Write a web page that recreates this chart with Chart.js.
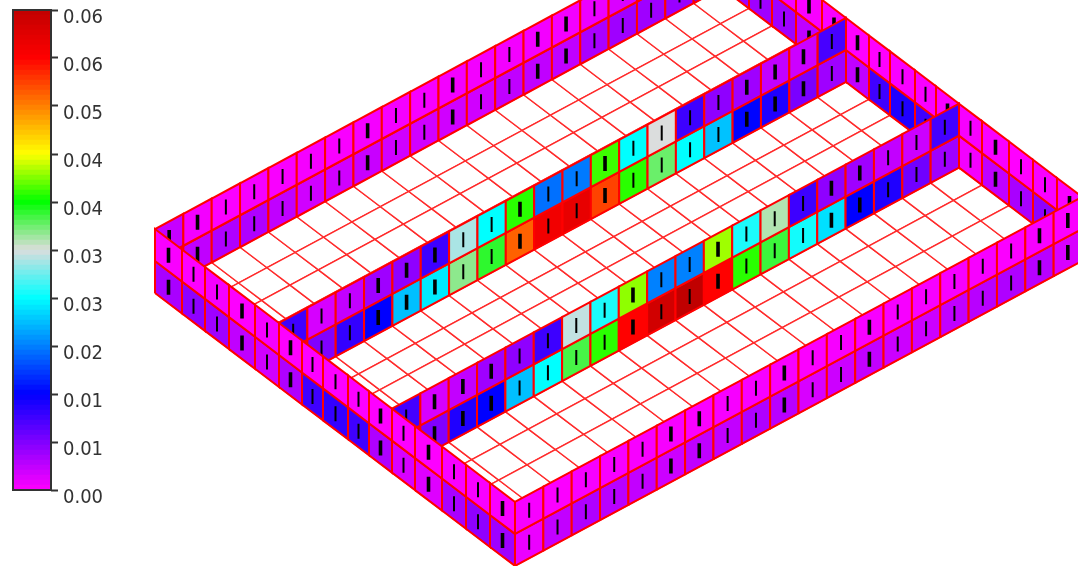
<!DOCTYPE html>
<html>
<head>
<meta charset="utf-8">
<style>
html,body{margin:0;padding:0;background:#fff;overflow:hidden}
canvas{position:absolute;left:0;top:0}
</style>
<script src="https://cdn.jsdelivr.net/npm/chart.js@4"></script>
</head>
<body>
<canvas id="mesh" width="1078" height="566"></canvas>
<canvas id="bar" width="110" height="566"></canvas>
<script>
// ---- colour bar ----
const tickValues = [0,0.00625,0.0125,0.01875,0.025,0.03125,0.0375,0.04375,0.05,0.05625,0.0625];
const tickLabels = ['0.00','0.01','0.01','0.02','0.03','0.03','0.04','0.04','0.05','0.06','0.06'];
const rampValues = [0,0.0125,0.025,0.03125,0.0375,0.04375,0.05625,0.0625];
const rampColors = [[255,0,255],[0,0,255],[0,255,255],[221,221,221],[0,255,0],[255,255,0],[255,0,0],[192,0,0]];

// ---- mesh axes: cell edges along the two plan directions ----
const alongStations = [0,1,2,3,4,5,6,7,8,9,10,11,12,13,14,15,16,17,18,19,20];
const acrossStations = [0,27,50,74,100,124,147,168,193,214,237,260,287,311,335,360];

// ---- field value of each wall cell (lower row, upper row) ----
const backLower = [.0045,.0031,.0039,.0039,.0031,.0023,.0023,.0027,.0023,.0023,.0023,.0023,.0031,.0031,.0031,.0042,.0047,.0047,.005,.007];
const backUpper = [.0028,.0006,.0002,.0005,.0003,.0005,.0003,.0005,.0005,.0004,.0006,.0006,.0006,.0006,.0006,.001,.0018,.0031,.0035,.0035];
const wallALower = [.0075,.0062,.010,.0125,.0219,.024,.0335,.0362,.0515,.0575,.0585,.053,.0385,.0345,.025,.022,.0127,.011,.0065,.0047];
const wallAUpper = [.0094,.002,.003,.0047,.0055,.0095,.0298,.025,.0385,.018,.0185,.039,.025,.0312,.0095,.0055,.0047,.003,.0025,.009];
const wallBLower = [.0075,.0062,.011,.0125,.0219,.025,.0355,.0385,.0562,.0608,.0625,.0562,.0385,.0358,.0255,.0235,.0125,.011,.007,.0047];
const wallBUpper = [.0092,.002,.003,.0047,.0055,.0095,.0305,.0258,.041,.0188,.0188,.0414,.0258,.0325,.0095,.0055,.0047,.003,.0025,.0092];
const frontRightLower = [.001,.003,.0039,.0035,.003,.0025,.0031,.003,.0039,.0035,.0019,.0025,.003,.0025,.0025,.0031,.0035,.0039,.0035,.0019];
const frontRightUpper = [.0004,.0002,.0004,.0004,.0004,.0004,.0002,.0004,.0004,.0004,.0002,.0004,.0004,.0004,.0004,.0004,.0004,.0002,.0004,.0002];
const frontLeftLower = [.0042,.0055,.0047,.0031,.0023,.0039,.0094,.010,.0094,.0039,.0019,.0016,.0042,.0055,.0047];
const frontLeftUpper = [.0003,.0001,.0005,.0001,.0005,.0001,.0001,.0001,.0001,.0001,.0001,.0001,.0003,.0003,.0003];
const sideLower = [.0047,.0047,.0047,.0031,.0031,.0031,.0094,.011,.0094,.0062,.0006,.0031,.0042,.0055,.005];
const sideUpper = [.001,.001,.0005,.0003,.0003,0,0,.0003,.0003,.0003,.0004,.0003,0,.0003,.0003];

// cells whose black glyph renders heavy
const heavyBack = [0,1,7,10,13,14];
const heavyWallA = [3,4,5,8,11,16,17,18];
const heavyWallB = [1,2,3,8,11,15,16];
const heavyFrontRight = [5,6,9,12,18,19];
const heavyFrontLeft = [0,3,5,9,11,14];
const heavySide = [3,4,5,9,11,14];

// ---- helpers ----
function colorOf(v){
  let i = 0;
  while(i < rampValues.length-2 && v > rampValues[i+1]) i++;
  const t = Math.min(1,Math.max(0,(v-rampValues[i])/(rampValues[i+1]-rampValues[i])));
  const a = rampColors[i], b = rampColors[i+1];
  return 'rgb('+a.map((c,n)=>Math.round(c+(b[n]-c)*t)).join(',')+')';
}
// plan position (along index, across distance, level 0..2) -> scale coordinates
function project(a,c,k){
  return {x:155+28.35*a+c, y:293-32*k-15.25*a+0.758*c};
}
const layers = [];
function poly(pts,fill,width,line){
  layers.push({data:pts.concat([pts[0]]),showLine:true,fill:'shape',backgroundColor:fill,
    borderColor:line,borderWidth:width,pointRadius:0,tension:0,borderJoinStyle:'miter'});
}
function glyph(cx,cy,heavy){
  layers.push({data:[{x:cx,y:cy-7.5},{x:cx,y:cy+7.5}],showLine:true,fill:false,
    borderColor:'#000',borderWidth:heavy?3.6:2,pointRadius:0,tension:0});
}
function cell(p,value,heavy){
  poly(p,colorOf(value),2,'#ff0000');
  const cx=(p[0].x+p[2].x)/2, cy=(p[0].y+p[2].y)/2;
  glyph(cx,cy,heavy);
}
function alongWall(c,lower,upper,heavy){
  for(let i=0;i<20;i++){
    [lower,upper].forEach((row,k)=>{
      const a0=alongStations[i],a1=alongStations[i+1];
      cell([project(a0,c,k),project(a1,c,k),project(a1,c,k+1),project(a0,c,k+1)],row[i],heavy.includes(i));
    });
  }
}
function acrossWall(a,lower,upper,heavy,from,to){
  for(let j=from;j<to;j++){
    [lower,upper].forEach((row,k)=>{
      const c0=acrossStations[j],c1=acrossStations[j+1];
      cell([project(a,c0,k),project(a,c1,k),project(a,c1,k+1),project(a,c0,k+1)],row[j],heavy.includes(j));
    });
  }
}

// floor
for(let i=0;i<20;i++)for(let j=0;j<15;j++){
  const a0=alongStations[i],a1=alongStations[i+1],c0=acrossStations[j],c1=acrossStations[j+1];
  poly([project(a0,c0,0),project(a1,c0,0),project(a1,c1,0),project(a0,c1,0)],'#ffffff',1.4,'#ff2a2a');
}
// walls, far to near
alongWall(acrossStations[0],backLower,backUpper,heavyBack);
acrossWall(20,sideLower,sideUpper,heavySide,0,5);
alongWall(acrossStations[5],wallALower,wallAUpper,heavyWallA);
acrossWall(20,sideLower,sideUpper,heavySide,5,10);
alongWall(acrossStations[10],wallBLower,wallBUpper,heavyWallB);
acrossWall(20,sideLower,sideUpper,heavySide,10,15);
alongWall(acrossStations[15],frontRightLower,frontRightUpper,heavyFrontRight);
acrossWall(0,frontLeftLower,frontLeftUpper,heavyFrontLeft,0,15);

new Chart(document.getElementById('mesh'),{
  type:'scatter',
  data:{datasets:layers.slice().reverse()},
  options:{
    responsive:false,animation:false,events:[],
    layout:{padding:0},
    plugins:{legend:{display:false},tooltip:{enabled:false}},
    scales:{
      x:{type:'linear',min:0,max:1078,display:false},
      y:{type:'linear',min:0,max:566,reverse:true,display:false}
    }
  }
});

// colour bar chart
const bandCount = 96, bandStep = 0.0625/bandCount;
const bands = [];
for(let b=0;b<bandCount;b++){
  bands.push({data:[bandStep],backgroundColor:colorOf((b+0.5)*bandStep),borderWidth:0,
    barPercentage:1,categoryPercentage:1});
}
const framePlugin = {id:'frame',afterDraw(chart){
  const {ctx,chartArea:a}=chart;
  ctx.save();ctx.strokeStyle='#333';ctx.lineWidth=2;
  ctx.strokeRect(a.left,a.top,a.right-a.left,a.bottom-a.top);
  ctx.restore();
}};
new Chart(document.getElementById('bar'),{
  type:'bar',
  data:{labels:[''],datasets:bands},
  plugins:[framePlugin],
  options:{
    responsive:false,animation:false,events:[],
    layout:{padding:{left:13,top:10,bottom:76,right:0}},
    plugins:{legend:{display:false},tooltip:{enabled:false}},
    scales:{
      x:{stacked:true,display:false},
      y:{stacked:true,position:'right',min:0,max:0.0625,
        afterBuildTicks(s){s.ticks=tickValues.map(v=>({value:v}));},
        afterFit(s){s.width=59;s.paddingTop=0;s.paddingBottom=0;},
        grid:{drawOnChartArea:false,drawTicks:true,tickLength:7,tickWidth:2,tickColor:'#333'},
        border:{display:false},
        ticks:{autoSkip:false,padding:5,labelOffset:7.5,color:'#333',
          font:{family:'"DejaVu Sans Condensed","DejaVu Sans"',size:20},
          callback:(v,i)=>tickLabels[i]}
      }
    }
  }
});
</script>
</body>
</html>
